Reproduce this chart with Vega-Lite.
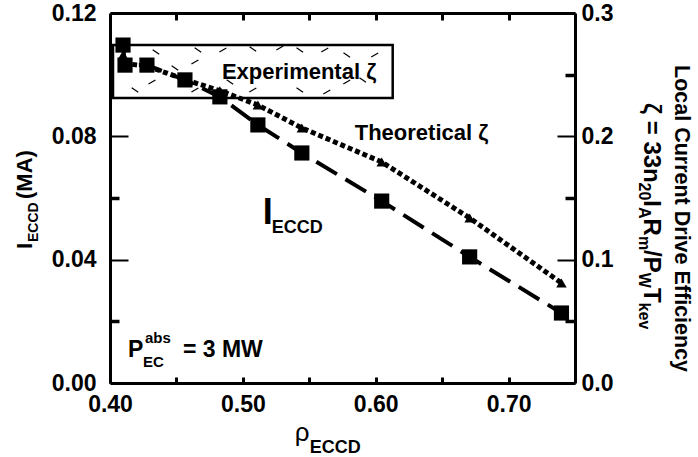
{
  "$schema": "https://vega.github.io/schema/vega-lite/v6.json",
  "width": 465,
  "height": 370,
  "autosize": {"type": "none"},
  "padding": {"left": 110, "top": 13, "right": 123, "bottom": 74},
  "background": "white",
  "config": {
    "view": {"stroke": null},
    "font": "Liberation Sans",
    "axis": {"grid": false, "domainColor": "black", "domainWidth": 3, "tickColor": "black", "labelColor": "black", "labelFont": "Liberation Sans", "labelFontWeight": "bold", "labelFontSize": 23, "labelOverlap": false, "labelFlush": false, "title": null}
  },
  "datasets": {
    "ieccd": [
      {"x": 0.4098, "y": 0.1096},
      {"x": 0.4113, "y": 0.1031},
      {"x": 0.4278, "y": 0.1031},
      {"x": 0.4564, "y": 0.0983},
      {"x": 0.4827, "y": 0.0928},
      {"x": 0.5113, "y": 0.0837},
      {"x": 0.5444, "y": 0.0746},
      {"x": 0.6045, "y": 0.0590},
      {"x": 0.6707, "y": 0.0409},
      {"x": 0.7398, "y": 0.0227}
    ],
    "zeta": [
      {"x": 0.4098, "y": 0.266},
      {"x": 0.4113, "y": 0.259},
      {"x": 0.4278, "y": 0.257},
      {"x": 0.4564, "y": 0.246},
      {"x": 0.4827, "y": 0.237},
      {"x": 0.5113, "y": 0.2254},
      {"x": 0.5444, "y": 0.2068},
      {"x": 0.6045, "y": 0.1792},
      {"x": 0.6707, "y": 0.1338},
      {"x": 0.7398, "y": 0.0811}
    ],
    "box": [{"x": 0.40226, "x2": 0.61278, "y": 0.109622, "y2": 0.092432}],
    "dashA": [
      {"x": 0.43459, "y": 0.10735}, {"x": 0.46617, "y": 0.10800}, {"x": 0.50752, "y": 0.10832},
      {"x": 0.54286, "y": 0.10800}, {"x": 0.41880, "y": 0.09503}, {"x": 0.49023, "y": 0.09762},
      {"x": 0.54286, "y": 0.09503}, {"x": 0.59023, "y": 0.09827}, {"x": 0.44887, "y": 0.10216},
      {"x": 0.57820, "y": 0.10638}
    ],
    "dashB": [
      {"x": 0.46391, "y": 0.10411}, {"x": 0.48496, "y": 0.10800}, {"x": 0.52782, "y": 0.10865},
      {"x": 0.56165, "y": 0.10800}, {"x": 0.43158, "y": 0.09762}, {"x": 0.46391, "y": 0.09503},
      {"x": 0.50752, "y": 0.09503}, {"x": 0.56316, "y": 0.09438}, {"x": 0.57820, "y": 0.09762},
      {"x": 0.59925, "y": 0.10638}
    ],
    "tMain": [
      {"x": 0.48421, "y": 0.098595, "t": "Experimental ζ"},
      {"x": 0.58421, "y": 0.07881, "t": "Theoretical ζ"}
    ],
    "tP": [
      {"x": 0.41353, "y": 0.008432, "t": "P"},
      {"x": 0.45489, "y": 0.008432, "t": "= 3 MW"}
    ],
    "tSmall": [
      {"x": 0.42632, "y": 0.012973, "t": "abs"},
      {"x": 0.42481, "y": 0.005189, "t": "EC"}
    ],
    "tIbig": [{"x": 0.51504, "y": 0.051567, "t": "I"}],
    "tSub18": [
      {"x": 0.52180, "y": 0.048649, "t": "ECCD"},
      {"x": 0.55038, "y": -0.022703, "t": "ECCD"}
    ],
    "tRho": [{"x": 0.53910, "y": -0.018811, "t": "ρ"}],
    "tLeftMain": [
      {"x": 0.34135, "y": 0.043459, "t": "I"},
      {"x": 0.34135, "y": 0.059676, "t": "(MA)"}
    ],
    "tLeftSub": [{"x": 0.34586, "y": 0.045730, "t": "ECCD"}],
    "tRightLine1": [
      {"x": 0.82556, "y": 0.103135, "t": "Local Current Drive Efficiency"}
    ],
    "tRightMain": [
      {"x": 0.80226, "y": 0.090811, "t": "ζ = 33n"},
      {"x": 0.80226, "y": 0.059253, "t": "I"},
      {"x": 0.80226, "y": 0.053319, "t": "R"},
      {"x": 0.80226, "y": 0.043102, "t": "/P"},
      {"x": 0.80226, "y": 0.030843, "t": "T"}
    ],
    "tRightSub": [
      {"x": 0.79850, "y": 0.065027, "t": "20"},
      {"x": 0.79850, "y": 0.057081, "t": "A"},
      {"x": 0.79850, "y": 0.047708, "t": "m"},
      {"x": 0.79850, "y": 0.035740, "t": "W"},
      {"x": 0.79850, "y": 0.026075, "t": "kev"}
    ]
  },
  "layer": [
    {
      "encoding": {
        "x": {
          "field": "x", "type": "quantitative",
          "scale": {"domain": [0.4, 0.75], "nice": false, "zero": false},
          "axis": {
            "orient": "bottom",
            "values": [0.4, 0.45, 0.5, 0.55, 0.6, 0.65, 0.7],
            "format": ".2f",
            "labelExpr": "round(datum.value*100) % 10 == 0 ? datum.label : ''",
            "tickSize": -6, "tickWidth": 3, "labelPadding": 16, "labelBaseline": "top"
          }
        },
        "y": {
          "field": "y", "type": "quantitative",
          "scale": {"domain": [0, 0.12], "nice": false},
          "axis": {
            "orient": "left",
            "values": [0, 0.02, 0.04, 0.06, 0.08, 0.1, 0.12],
            "format": ".2f",
            "labelExpr": "round(datum.value*100) % 4 == 0 ? datum.label : ''",
            "tickSize": {"expr": "round(datum.value*100) % 4 == 0 ? -18 : -9"},
            "tickWidth": {"expr": "round(datum.value*100) % 4 == 0 ? 2 : 3.5"},
            "labelPadding": 32
          }
        }
      },
      "layer": [
        {"data": {"name": "box"}, "mark": {"type": "rect", "fill": "white", "stroke": "black", "strokeWidth": 2.5}, "encoding": {"x2": {"field": "x2"}, "y2": {"field": "y2"}}},
        {"data": {"name": "dashA"}, "mark": {"type": "point", "shape": "M-1,0L1,0", "size": 64, "angle": 35, "stroke": "black", "strokeWidth": 1.2, "opacity": 1}},
        {"data": {"name": "dashB"}, "mark": {"type": "point", "shape": "M-1,0L1,0", "size": 64, "angle": -30, "stroke": "black", "strokeWidth": 1.2, "opacity": 1}},
        {"data": {"name": "ieccd"}, "mark": {"type": "line", "color": "black", "strokeWidth": 4, "strokeDash": [24, 10]}},
        {"data": {"name": "ieccd"}, "mark": {"type": "point", "shape": "square", "filled": true, "size": 230, "color": "black", "opacity": 1}},
        {"data": {"name": "tMain"}, "mark": {"type": "text", "align": "left", "baseline": "alphabetic", "fontSize": 22, "fontWeight": "bold", "color": "black"}, "encoding": {"text": {"field": "t"}}},
        {"data": {"name": "tP"}, "mark": {"type": "text", "align": "left", "baseline": "alphabetic", "fontSize": 23, "fontWeight": "bold", "color": "black"}, "encoding": {"text": {"field": "t"}}},
        {"data": {"name": "tSmall"}, "mark": {"type": "text", "align": "left", "baseline": "alphabetic", "fontSize": 15, "fontWeight": "bold", "color": "black"}, "encoding": {"text": {"field": "t"}}},
        {"data": {"name": "tIbig"}, "mark": {"type": "text", "align": "left", "baseline": "alphabetic", "fontSize": 36, "fontWeight": "bold", "color": "black"}, "encoding": {"text": {"field": "t"}}},
        {"data": {"name": "tSub18"}, "mark": {"type": "text", "align": "left", "baseline": "alphabetic", "fontSize": 18, "fontWeight": "bold", "color": "black"}, "encoding": {"text": {"field": "t"}}},
        {"data": {"name": "tRho"}, "mark": {"type": "text", "align": "left", "baseline": "alphabetic", "fontSize": 26, "color": "black"}, "encoding": {"text": {"field": "t"}}},
        {"data": {"name": "tLeftMain"}, "mark": {"type": "text", "align": "left", "baseline": "alphabetic", "angle": 270, "fontSize": 22, "fontWeight": "bold", "color": "black"}, "encoding": {"text": {"field": "t"}}},
        {"data": {"name": "tLeftSub"}, "mark": {"type": "text", "align": "left", "baseline": "alphabetic", "angle": 270, "fontSize": 14, "fontWeight": "bold", "color": "black"}, "encoding": {"text": {"field": "t"}}},
        {"data": {"name": "tRightLine1"}, "mark": {"type": "text", "align": "left", "baseline": "alphabetic", "angle": 90, "fontSize": 21.5, "fontWeight": "bold", "color": "black"}, "encoding": {"text": {"field": "t"}}},
        {"data": {"name": "tRightMain"}, "mark": {"type": "text", "align": "left", "baseline": "alphabetic", "angle": 90, "fontSize": 24, "fontWeight": "bold", "color": "black"}, "encoding": {"text": {"field": "t"}}},
        {"data": {"name": "tRightSub"}, "mark": {"type": "text", "align": "left", "baseline": "alphabetic", "angle": 90, "fontSize": 16, "fontWeight": "bold", "color": "black"}, "encoding": {"text": {"field": "t"}}}
      ]
    },
    {
      "data": {"name": "zeta"},
      "encoding": {
        "x": {
          "field": "x", "type": "quantitative",
          "scale": {"domain": [0.4, 0.75], "nice": false, "zero": false},
          "axis": {
            "orient": "top",
            "values": [0.45, 0.5, 0.55, 0.6, 0.65, 0.7],
            "labels": false,
            "tickSize": -7, "tickWidth": 3
          }
        },
        "y": {
          "field": "y", "type": "quantitative",
          "scale": {"domain": [0, 0.3], "nice": false},
          "axis": {
            "orient": "right",
            "values": [0, 0.05, 0.1, 0.15, 0.2, 0.25, 0.3],
            "format": ".1f",
            "labelExpr": "round(datum.value*100) % 10 == 0 ? datum.label : ''",
            "tickSize": {"expr": "round(datum.value*100) % 10 == 0 ? -18 : -10"},
            "tickWidth": {"expr": "round(datum.value*100) % 10 == 0 ? 2 : 3.5"},
            "labelPadding": 24
          }
        }
      },
      "layer": [
        {"mark": {"type": "line", "color": "black", "strokeWidth": 5, "strokeDash": [5, 3]}},
        {"mark": {"type": "point", "shape": "triangle-up", "filled": true, "size": 110, "color": "black", "opacity": 1}}
      ]
    }
  ],
  "resolve": {"scale": {"y": "independent"}, "axis": {"x": "independent"}}
}
